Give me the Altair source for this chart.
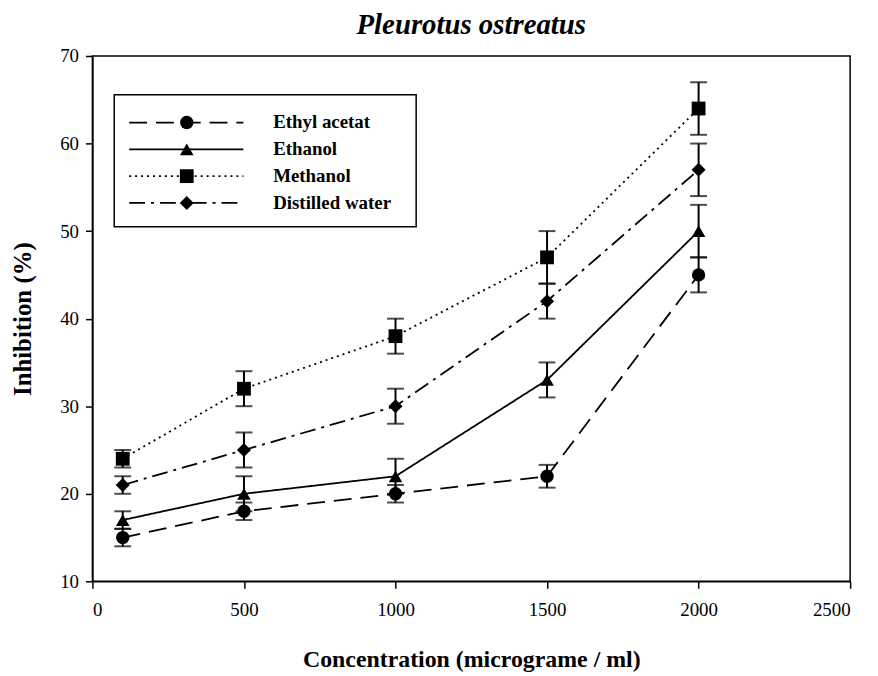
import altair as alt
import pandas as pd

series = ["Ethyl acetat", "Ethanol", "Methanol", "Distilled water"]
conc = [100, 500, 1000, 1500, 2000]
ethyl = [15, 18, 20, 22, 45]
ethyl_err = [1, 1, 1, 1.3, 2]
ethanol = [17, 20, 22, 33, 50]
ethanol_err = [1, 2, 2, 2, 3]
methanol = [24, 32, 38, 47, 64]
methanol_err = [1, 2, 2, 3, 3]
water = [21, 25, 30, 42, 57]
water_err = [1, 2, 2, 2, 3]

vals = [ethyl, ethanol, methanol, water]
errs = [ethyl_err, ethanol_err, methanol_err, water_err]
rows = []
for s, v, e in zip(series, vals, errs):
    for c, vi, ei in zip(conc, v, e):
        rows.append({"series": s, "conc": c, "val": vi, "lo": vi - ei, "hi": vi + ei})
df = pd.DataFrame(rows)

dashes = [[18, 9], [1, 0], [2, 4], [16, 6, 3, 6]]
shapes = ["circle", "triangle-up", "square", "diamond"]
sizes = [180, 200, 160, 270]
FONT = "Liberation Serif"

dash_scale = alt.Scale(domain=series, range=dashes)
shape_scale = alt.Scale(domain=series, range=shapes)
size_scale = alt.Scale(domain=series, range=sizes)

xs = alt.Scale(domain=[0, 2500], nice=False)
ys = alt.Scale(domain=[10, 70], nice=False)

X = alt.X("conc:Q", scale=xs, title="Concentration (micrograme / ml)",
          axis=alt.Axis(values=[0, 500, 1000, 1500, 2000, 2500], format="d",
                        labelFontSize=19, labelFont=FONT, titleFontSize=24,
                        labelPadding=12, titlePadding=29))
Y = alt.Y("val:Q", scale=ys, title="Inhibition (%)",
          axis=alt.Axis(values=[10, 20, 30, 40, 50, 60, 70], format="d",
                        labelFontSize=19, labelFont=FONT, titleFontSize=25,
                        labelPadding=7, titlePadding=24))

base = alt.Chart(df)
lines = base.mark_line(color="black", strokeWidth=1.8).encode(
    x=X, y=Y,
    strokeDash=alt.StrokeDash("series:N", scale=dash_scale, legend=None),
    detail="series:N",
)
bars = base.mark_rule(color="black", strokeWidth=2).encode(
    x=alt.X("conc:Q", scale=xs), y=alt.Y("lo:Q", scale=ys), y2="hi:Q")
cap_lo = base.mark_tick(color="black", orient="horizontal", size=17, thickness=2).encode(
    x=alt.X("conc:Q", scale=xs), y=alt.Y("lo:Q", scale=ys))
cap_hi = base.mark_tick(color="black", orient="horizontal", size=17, thickness=2).encode(
    x=alt.X("conc:Q", scale=xs), y=alt.Y("hi:Q", scale=ys))
points = base.mark_point(filled=True, color="black", opacity=1).encode(
    x=alt.X("conc:Q", scale=xs), y=alt.Y("val:Q", scale=ys),
    shape=alt.Shape("series:N", scale=shape_scale, legend=None),
    size=alt.Size("series:N", scale=size_scale, legend=None),
)

# manual legend (pixel layout inside plot area)
leg_y = [67, 94, 121, 148]
leg = pd.DataFrame({"series": series, "ly": leg_y})
box = alt.Chart(pd.DataFrame({"a": [0]})).mark_rect(
    fill="white", stroke="black", strokeWidth=1.5).encode(
    x=alt.value(22), x2=alt.value(326), y=alt.value(39), y2=alt.value(172))
lbase = alt.Chart(leg)
leg_lines = lbase.mark_rule(color="black", strokeWidth=1.8).encode(
    x=alt.value(37), x2=alt.value(152),
    y=alt.Y("ly:Q", scale=None),
    strokeDash=alt.StrokeDash("series:N", scale=dash_scale, legend=None),
)
leg_pts = lbase.mark_point(filled=True, color="black", opacity=1).encode(
    x=alt.value(95), y=alt.Y("ly:Q", scale=None),
    shape=alt.Shape("series:N", scale=shape_scale, legend=None),
    size=alt.Size("series:N", scale=size_scale, legend=None),
)
leg_txt = lbase.mark_text(align="left", baseline="middle", font=FONT, fontSize=19,
                          fontWeight="bold", color="black").encode(
    x=alt.value(182), y=alt.Y("ly:Q", scale=None), text="series:N")

chart = alt.layer(lines, bars, cap_lo, cap_hi, points, box, leg_lines, leg_pts, leg_txt).properties(
    width=763, height=529,
    title=alt.TitleParams("Pleurotus ostreatus", font=FONT, fontStyle="italic",
                          fontWeight="bold", fontSize=29, anchor="middle", offset=7, color="black"),
    autosize=alt.AutoSizeParams(type="none"),
    padding={"left": 85, "top": 46, "right": 20, "bottom": 92},
).configure_view(stroke="black", strokeWidth=1.5).configure_axis(
    grid=False, domainColor="black", domainWidth=1.5, tickColor="black", tickWidth=1.5,
    tickSize=7, labelFont=FONT, labelFontSize=19, labelColor="black",
    titleFont=FONT, titleFontSize=24, titleFontWeight="bold", titleColor="black",
).resolve_scale(x="shared", y="shared")

chart.save("out.html", embed_options={"renderer": "svg", "actions": False})
